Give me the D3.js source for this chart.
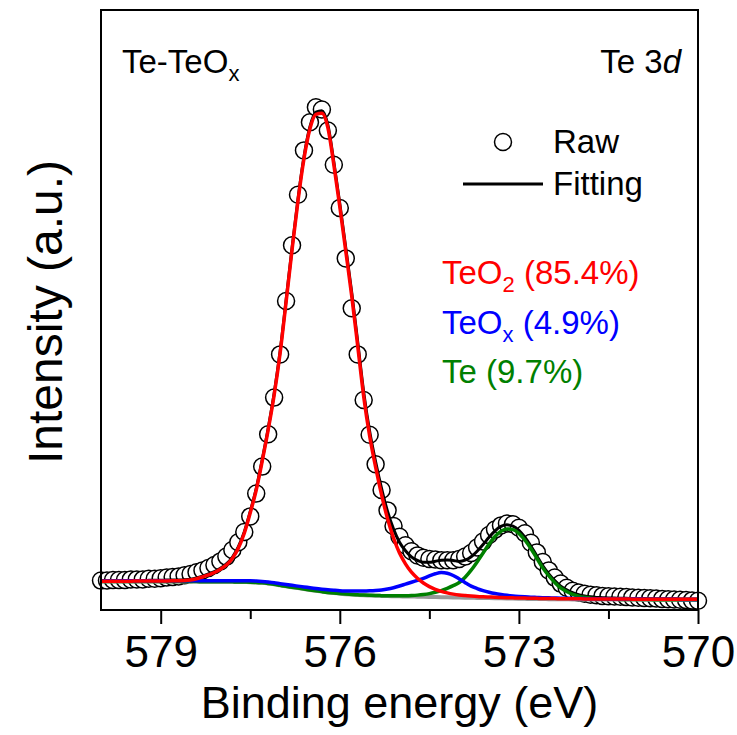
<!DOCTYPE html>
<html>
<head>
<meta charset="utf-8">
<script src="https://cdn.jsdelivr.net/npm/d3@7"></script>
<style>
  html, body { margin: 0; padding: 0; background: #fff; overflow: hidden; }
  svg { display: block; }
  text { font-family: "Liberation Sans", Arial, sans-serif; }
</style>
</head>
<body>
<div id="chart"></div>
<script>
// binding energy grid, eV (high to low)
var energy = [
  580.0, 579.9, 579.8, 579.7, 579.6, 579.5, 579.4, 579.3, 579.2, 579.1,
  579.0, 578.9, 578.8, 578.7, 578.6, 578.5, 578.4, 578.3, 578.2, 578.1,
  578.0, 577.9, 577.8, 577.7, 577.6, 577.5, 577.4, 577.3, 577.2, 577.1,
  577.0, 576.9, 576.8, 576.7, 576.6, 576.5, 576.4, 576.3, 576.2, 576.1,
  576.0, 575.9, 575.8, 575.7, 575.6, 575.5, 575.4, 575.3, 575.2, 575.1,
  575.0, 574.9, 574.8, 574.7, 574.6, 574.5, 574.4, 574.3, 574.2, 574.1,
  574.0, 573.9, 573.8, 573.7, 573.6, 573.5, 573.4, 573.3, 573.2, 573.1,
  573.0, 572.9, 572.8, 572.7, 572.6, 572.5, 572.4, 572.3, 572.2, 572.1,
  572.0, 571.9, 571.8, 571.7, 571.6, 571.5, 571.4, 571.3, 571.2, 571.1,
  571.0, 570.9, 570.8, 570.7, 570.6, 570.5, 570.4, 570.3, 570.2, 570.1, 570.0
];

// measured spectrum (a.u.)
var rawCounts = [
  4.9, 4.9, 5.0, 5.0, 5.0, 5.1, 5.1, 5.1, 5.2, 5.2,
  5.3, 5.4, 5.5, 5.6, 5.8, 6.0, 6.3, 6.6, 7.0, 7.5,
  8.1, 8.9, 10.0, 11.3, 13.0, 15.6, 19.4, 23.9, 29.3, 35.4,
  42.6, 51.5, 60.8, 69.2, 76.6, 81.3, 83.8, 83.4, 79.9, 74.2,
  67.0, 58.6, 50.3, 42.6, 35.0, 29.2, 24.3, 20.0, 16.6, 14.0,
  12.2, 10.8, 9.8, 9.1, 8.7, 8.5, 8.4, 8.3, 8.3, 8.3,
  8.5, 8.9, 9.5, 10.4, 11.4, 12.5, 13.4, 14.1, 14.4, 14.3,
  13.7, 12.8, 11.2, 9.6, 8.0, 6.6, 5.4, 4.4, 3.7, 3.2,
  2.9, 2.7, 2.55, 2.45, 2.35, 2.3, 2.25, 2.2, 2.15, 2.1,
  2.05, 2.0, 1.95, 1.9, 1.85, 1.8, 1.75, 1.7, 1.65, 1.6, 1.55
];

// Shirley-type background
var background = [
  4.75, 4.75, 4.75, 4.75, 4.75, 4.75, 4.75, 4.75, 4.74, 4.74,
  4.74, 4.74, 4.74, 4.74, 4.73, 4.73, 4.73, 4.72, 4.72, 4.71,
  4.71, 4.70, 4.69, 4.68, 4.66, 4.64, 4.60, 4.52, 4.41, 4.27,
  4.11, 3.95, 3.80, 3.65, 3.50, 3.35, 3.20, 3.06, 2.93, 2.82,
  2.72, 2.64, 2.57, 2.51, 2.46, 2.42, 2.38, 2.35, 2.32, 2.30,
  2.28, 2.26, 2.24, 2.22, 2.20, 2.18, 2.16, 2.14, 2.12, 2.10,
  2.08, 2.06, 2.04, 2.02, 2.00, 1.98, 1.96, 1.94, 1.92, 1.90,
  1.88, 1.86, 1.84, 1.83, 1.82, 1.81, 1.80, 1.79, 1.78, 1.77,
  1.77, 1.76, 1.76, 1.75, 1.75, 1.74, 1.74, 1.74, 1.73, 1.73,
  1.73, 1.72, 1.72, 1.72, 1.71, 1.71, 1.71, 1.70, 1.70, 1.70, 1.70
];

// fitted components above background
var teo2Peak = [
  0.05, 0.05, 0.05, 0.06, 0.06, 0.06, 0.07, 0.07, 0.08, 0.09,
  0.10, 0.11, 0.12, 0.13, 0.17, 0.27, 0.47, 0.78, 1.13, 1.54,
  2.09, 2.80, 3.91, 5.62, 8.14, 11.56, 15.40, 20.28, 25.59, 31.53,
  38.69, 47.35, 56.20, 64.55, 71.70, 76.85, 79.40, 79.74, 77.47, 71.38,
  64.48, 57.16, 49.73, 41.49, 33.14, 26.58, 21.42, 16.85, 12.88, 9.70,
  7.22, 5.44, 4.06, 3.08, 2.30, 1.72, 1.29, 0.96, 0.73, 0.55,
  0.42, 0.34, 0.28, 0.23, 0.20, 0.18, 0.16, 0.15, 0.14, 0.13,
  0.12, 0.12, 0.12, 0.11, 0.10, 0.10, 0.10, 0.10, 0.10, 0.10,
  0.09, 0.09, 0.09, 0.09, 0.09, 0.09, 0.09, 0.08, 0.09, 0.08,
  0.08, 0.08, 0.08, 0.08, 0.08, 0.08, 0.08, 0.08, 0.08, 0.08, 0.08
];

var teoxPeak = [
  0.10, 0.10, 0.10, 0.10, 0.11, 0.11, 0.11, 0.11, 0.12, 0.12,
  0.12, 0.13, 0.13, 0.13, 0.14, 0.14, 0.15, 0.15, 0.16, 0.16,
  0.17, 0.18, 0.19, 0.20, 0.21, 0.22, 0.23, 0.24, 0.25, 0.27,
  0.28, 0.30, 0.31, 0.33, 0.35, 0.36, 0.38, 0.41, 0.44, 0.47,
  0.50, 0.54, 0.59, 0.64, 0.70, 0.78, 0.88, 1.00, 1.18, 1.42,
  1.72, 2.05, 2.38, 2.72, 3.08, 3.50, 3.88, 4.10, 4.00, 3.65,
  3.10, 2.50, 1.95, 1.55, 1.22, 0.97, 0.78, 0.64, 0.53, 0.45,
  0.39, 0.34, 0.30, 0.27, 0.24, 0.22, 0.20, 0.18, 0.17, 0.16,
  0.15, 0.14, 0.13, 0.12, 0.12, 0.11, 0.11, 0.10, 0.10, 0.09,
  0.09, 0.09, 0.08, 0.08, 0.08, 0.07, 0.07, 0.07, 0.07, 0.06, 0.06
];

var tePeak = [
  0, 0, 0, 0, 0, 0, 0, 0, 0, 0,
  0, 0, 0, 0, 0, 0, 0, 0, 0, 0,
  0, 0, 0, 0, 0, 0, 0, 0, 0, 0,
  0, 0, 0, 0, 0, 0, 0, 0, 0, 0,
  0.01, 0.01, 0.01, 0.02, 0.02, 0.02, 0.03, 0.04, 0.05, 0.06,
  0.08, 0.12, 0.18, 0.26, 0.38, 0.55, 0.80, 1.10, 1.50, 1.95,
  2.50, 3.40, 4.60, 6.00, 7.50, 9.00, 10.30, 11.20, 11.60, 11.50,
  10.90, 9.80, 8.40, 6.80, 5.20, 3.90, 2.80, 1.90, 1.30, 0.85,
  0.55, 0.35, 0.22, 0.14, 0.09, 0.06, 0.04, 0.03, 0.02, 0.02,
  0.01, 0.01, 0.01, 0, 0, 0, 0, 0, 0, 0, 0
];

var majorTicks = [579, 576, 573, 570];
var minorTicks = [577.5, 574.5, 571.5];

var componentNames = ['TeO', 'TeO', 'Te'];
var componentSubs = ['2', 'x', ''];
var componentShares = ['(85.4%)', '(4.9%)', '(9.7%)'];
var componentColors = ['#ff0000', '#0000ff', '#008000'];

var margin = {top: 10, right: 39, bottom: 125, left: 101},
    width = 737,
    height = 735,
    innerWidth = width - margin.left - margin.right,
    innerHeight = height - margin.top - margin.bottom,
    font = '"Liberation Sans", Arial, sans-serif';

var rows = energy.map((e, i) => ({
  e: e,
  raw: rawCounts[i],
  bg: background[i],
  teo2: background[i] + teo2Peak[i],
  teox: background[i] + teoxPeak[i],
  te: background[i] + tePeak[i],
  fit: background[i] + teo2Peak[i] + teoxPeak[i] + tePeak[i]
}));

var xScale = d3.scaleLinear()
  .domain([580, 570])
  .range([0, innerWidth]);

var yScale = d3.scaleLinear()
  .domain([0, 100])
  .range([innerHeight, 0]);

var svg = d3.select('#chart')
  .append('svg')
  .attr('width', width)
  .attr('height', height);

var g = svg.append('g')
  .attr('transform', 'translate(' + margin.left + ',' + margin.top + ')');

var lineFor = (key) => d3.line()
  .x((d) => xScale(d.e))
  .y((d) => yScale(d[key]))
  .curve(d3.curveMonotoneX);

// raw points
g.selectAll('circle.raw')
  .data(rows)
  .enter()
  .append('circle')
  .attr('class', 'raw')
  .attr('cx', (d) => xScale(d.e))
  .attr('cy', (d) => yScale(d.raw))
  .attr('r', 8.5)
  .attr('fill', '#fff')
  .attr('stroke', '#000')
  .attr('stroke-width', 1.5);

// envelope + components
var curves = [
  {key: 'fit', color: '#000', w: 3},
  {key: 'bg', color: '#999', w: 4},
  {key: 'te', color: '#008000', w: 3.5},
  {key: 'teox', color: '#0000ff', w: 3.5},
  {key: 'teo2', color: '#ff0000', w: 3.5}
];

g.selectAll('path.curve')
  .data(curves)
  .enter()
  .append('path')
  .attr('class', 'curve')
  .attr('d', (c) => lineFor(c.key)(rows))
  .attr('fill', 'none')
  .attr('stroke', (c) => c.color)
  .attr('stroke-width', (c) => c.w)
  .attr('stroke-linejoin', 'round');

// frame
g.append('rect')
  .attr('width', innerWidth)
  .attr('height', innerHeight)
  .attr('fill', 'none')
  .attr('stroke', '#000')
  .attr('stroke-width', 2);

// bottom axis
var xAxis = d3.axisBottom(xScale)
  .tickValues(majorTicks)
  .tickSize(14)
  .tickFormat(d3.format('d'));

var xMinor = d3.axisBottom(xScale)
  .tickValues(minorTicks)
  .tickSize(9)
  .tickFormat('');

var axG = g.append('g')
  .attr('transform', 'translate(0,' + innerHeight + ')')
  .call(xAxis);

g.append('g')
  .attr('transform', 'translate(0,' + innerHeight + ')')
  .call(xMinor);

g.selectAll('.domain').remove();
g.selectAll('.tick line')
  .attr('stroke', '#000')
  .attr('stroke-width', 2);

axG.selectAll('text')
  .attr('y', 57)
  .attr('dy', 0)
  .attr('fill', '#000')
  .style('font-family', font)
  .style('font-size', '44px');

// axis titles
g.append('text')
  .attr('x', innerWidth / 2)
  .attr('y', 708)
  .attr('text-anchor', 'middle')
  .style('font-size', '45px')
  .text('Binding energy (eV)');

g.append('text')
  .attr('transform', 'translate(-39,' + (innerHeight / 2 + 2) + ') rotate(-90)')
  .attr('text-anchor', 'middle')
  .style('font-size', '48px')
  .text('Intensity (a.u.)');

// corner labels
var lbl = g.append('text')
  .attr('x', 21)
  .attr('y', 63)
  .style('font-size', '33px');
lbl.append('tspan').text('Te-TeO');
lbl.append('tspan').attr('dy', 8).style('font-size', '22px').text('x');

var lbr = g.append('text')
  .attr('x', 580)
  .attr('y', 63)
  .attr('text-anchor', 'end')
  .style('font-size', '33px');
lbr.append('tspan').text('Te 3');
lbr.append('tspan').style('font-style', 'italic').text('d');

// legend
g.append('circle')
  .attr('cx', 402)
  .attr('cy', 132)
  .attr('r', 8.5)
  .attr('fill', '#fff')
  .attr('stroke', '#000')
  .attr('stroke-width', 1.5);

g.append('text')
  .attr('x', 452)
  .attr('y', 143)
  .style('font-size', '33px')
  .text('Raw');

g.append('line')
  .attr('x1', 362)
  .attr('x2', 442)
  .attr('y1', 174)
  .attr('y2', 174)
  .attr('stroke', '#000')
  .attr('stroke-width', 3);

g.append('text')
  .attr('x', 452)
  .attr('y', 185)
  .style('font-size', '33px')
  .text('Fitting');

// component shares
componentNames.forEach((name, i) => {
  var t = g.append('text')
    .attr('x', 341)
    .attr('y', 274 + i * 49.5)
    .attr('fill', componentColors[i])
    .style('font-size', '33px');
  t.append('tspan').text(name);
  if (componentSubs[i]) {
    t.append('tspan').attr('dy', 8).style('font-size', '22px').text(componentSubs[i]);
    t.append('tspan').attr('dy', -8).text(' ' + componentShares[i]);
  } else {
    t.append('tspan').text(' ' + componentShares[i]);
  }
});
</script>
</body>
</html>
